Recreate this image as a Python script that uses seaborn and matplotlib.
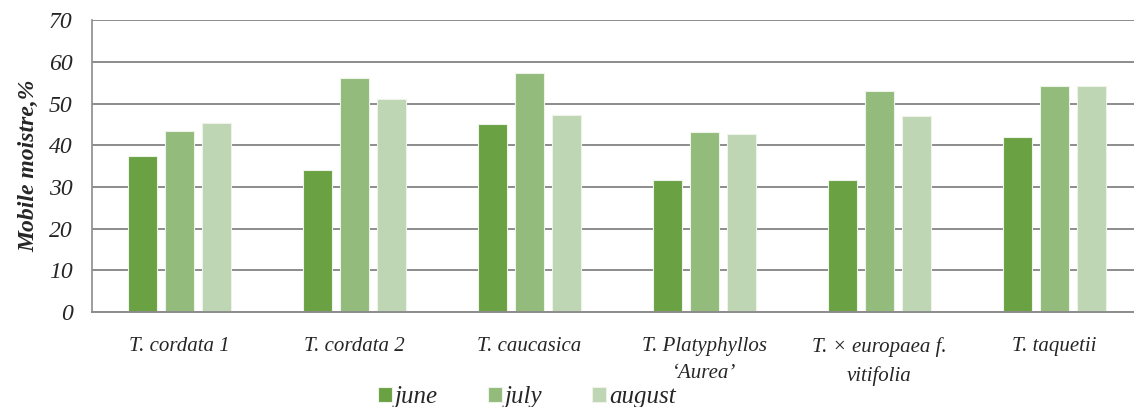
import numpy as np
import pandas as pd
import matplotlib
matplotlib.use("Agg")
import matplotlib.pyplot as plt
import seaborn as sns

species = ["T. cordata 1", "T. cordata 2", "T. caucasica",
           "T. Platyphyllos\n\u2018Aurea\u2019", "T. \u00d7 europaea f.\nvitifolia", "T. taquetii"]
months = ["june", "july", "august"]
june = [37.4, 34.0, 45.1, 31.8, 31.8, 42.0]
july = [43.5, 56.1, 57.3, 43.2, 53.0, 54.2]
august = [45.4, 51.1, 47.4, 42.7, 47.0, 54.2]
colors = ["#6aa142", "#93bb7b", "#bed6b4"]
yticks = [0, 10, 20, 30, 40, 50, 60, 70]

df = pd.DataFrame({
    "species": species * 3,
    "month": [m for m in months for _ in species],
    "value": june + july + august,
})

sns.set_theme(style="white")
plt.rcParams["font.family"] = ["Liberation Serif", "DejaVu Serif"]

fig = plt.figure(figsize=(11.34, 4.07), dpi=100)
ax = fig.add_axes([92 / 1134, 95 / 407, 1050 / 1134, 291.6 / 407])

sns.barplot(data=df, x="species", y="value", hue="month", order=species,
            hue_order=months, palette=colors, saturation=1, width=0.63,
            gap=0.2, edgecolor="#eef3ea", linewidth=0.8, ax=ax, legend=True,
            errorbar=None)

ax.set_ylim(0, 70)
ax.set_yticks(yticks)
ax.set_yticklabels([str(t) for t in yticks], fontsize=17, fontstyle="italic")
ax.set_xlim(-0.5, len(species) - 0.5)
ax.set_xticks(range(len(species)))
ax.set_xticklabels(species, fontsize=15, fontstyle="italic", linespacing=1.6,
                   va="top")
ax.tick_params(axis="both", length=0)
ax.tick_params(axis="y", pad=14)
ax.tick_params(axis="x", pad=18)
ax.set_xlabel("")
ax.set_ylabel("Mobile moistre,%", fontsize=17, fontweight="bold",
              fontstyle="italic", labelpad=7)

ax.yaxis.grid(True, color="#8c8c8c", linewidth=1.4)
ax.set_axisbelow(True)
for side in ["top", "right"]:
    ax.spines[side].set_visible(False)
ax.spines["left"].set_color("#8c8c8c")
ax.spines["left"].set_linewidth(1.2)
ax.spines["bottom"].set_color("#8c8c8c")
ax.spines["bottom"].set_linewidth(1.4)

handles, labels = ax.get_legend_handles_labels()
ax.legend(handles, labels, loc="center", bbox_to_anchor=(527 / 1134, 10 / 407),
          bbox_transform=fig.transFigure, ncol=3, frameon=False,
          prop={"size": 18, "style": "italic"}, handlelength=0.55,
          handleheight=0.55, handletextpad=0.12, columnspacing=2.0,
          borderpad=0)

fig.savefig("out.png", dpi=100)
